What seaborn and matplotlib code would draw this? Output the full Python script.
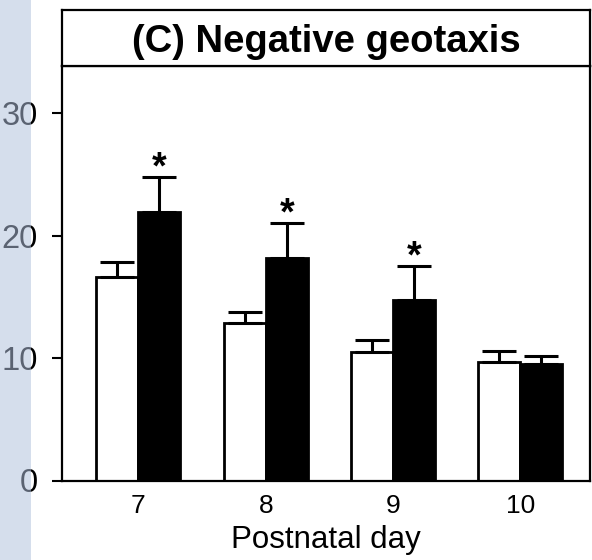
import matplotlib
matplotlib.use("Agg")
import matplotlib.pyplot as plt
import seaborn as sns
import pandas as pd
import numpy as np
from matplotlib.patches import Rectangle

days = ["7", "8", "9", "10"]
groups = ["Control", "Exposed"]
control_mean = [16.6, 12.9, 10.5, 9.7]
control_sem = [1.25, 0.85, 1.0, 0.85]
exposed_mean = [21.9, 18.2, 14.7, 9.5]
exposed_sem = [2.9, 2.85, 2.8, 0.7]
significant = [True, True, True, False]
y_ticks = [0, 10, 20, 30]

sns.set_theme(style="white")
plt.rcParams["font.family"] = ["Liberation Sans", "DejaVu Sans"]

df = pd.DataFrame({
    "day": days * 2,
    "group": [groups[0]] * 4 + [groups[1]] * 4,
    "mean": control_mean + exposed_mean,
})

W, H = 592, 560
fig = plt.figure(figsize=(W / 100, H / 100), dpi=100)
fig.patch.set_facecolor("white")

left, right = 62 / W, 590 / W
bottom = (H - 480.5) / H
mid = (H - 66) / H
top = (H - 10) / H

ax = fig.add_axes([left, bottom, right - left, mid - bottom])
hax = fig.add_axes([left, mid, right - left, top - mid])

sns.barplot(data=df, x="day", y="mean", hue="group", order=days,
            hue_order=groups, palette=["white", "black"], width=0.66,
            edgecolor="black", linewidth=2, errorbar=None, legend=False,
            saturation=1, ax=ax)

# error bars (upper only) from bar patches
bars = [p for p in ax.patches if p.get_height() > 0]
bars_sorted = sorted(bars, key=lambda p: p.get_x())
for i, d in enumerate(days):
    cb, eb = bars_sorted[2 * i], bars_sorted[2 * i + 1]
    for b, m, s in ((cb, control_mean[i], control_sem[i]), (eb, exposed_mean[i], exposed_sem[i])):
        xc = b.get_x() + b.get_width() / 2
        ax.errorbar([xc], [m], yerr=[[0], [s]], fmt="none", ecolor="black",
                    elinewidth=2.2, capsize=12.5, capthick=2.2, zorder=1)
    if significant[i]:
        xc = eb.get_x() + eb.get_width() / 2
        ax.annotate("*", (xc, exposed_mean[i] + exposed_sem[i]), xytext=(0, -7),
                    textcoords="offset points", ha="center", va="bottom",
                    fontsize=27, fontweight="bold", color="black")

ax.set_xlim(-0.60, 3.547)
ax.set_ylim(0, 33.85)
ax.set_yticks(y_ticks)
ax.set_yticklabels([str(t) for t in y_ticks], fontsize=23.5)
ax.set_xticks(range(len(days)))
ax.set_xticklabels(days, fontsize=19)
ax.tick_params(axis="y", which="major", left=True, length=7.5, width=1.5, pad=10,
               direction="out", color="black", labelcolor="black")
ax.tick_params(axis="x", length=0, pad=10, labelcolor="black")
ax.set_xlabel("Postnatal day", fontsize=22.5, color="black", labelpad=5)
ax.set_ylabel("")
for sp in ax.spines.values():
    sp.set_visible(True)
    sp.set_color("black")
    sp.set_linewidth(1.6)
ax.set_facecolor("white")

hax.set_xticks([])
hax.set_yticks([])
for sp in hax.spines.values():
    sp.set_color("black")
    sp.set_linewidth(1.6)
hax.text(0.5, 0.42, "(C) Negative geotaxis", ha="center", va="center",
         fontsize=27.5, fontweight="bold", color="black", transform=hax.transAxes)

# translucent blue strip at the left edge, drawn over the tick labels
fig.patches.append(Rectangle((0, 0), 31 / W, 1, transform=fig.transFigure,
                             facecolor=(176 / 255, 192 / 255, 220 / 255),
                             alpha=0.52, edgecolor="none", zorder=10))

fig.savefig("out.png", dpi=100)
